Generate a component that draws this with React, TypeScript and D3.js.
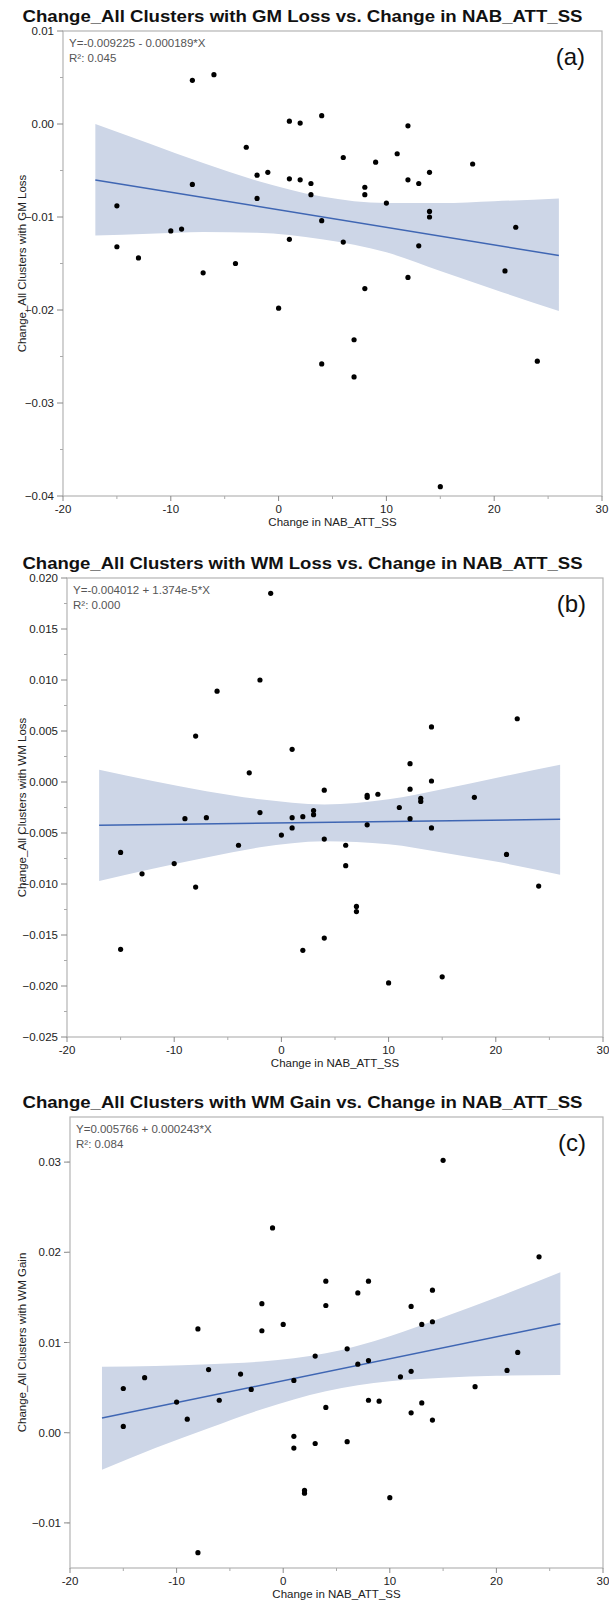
import React from "react";
import * as d3 from "d3";

// points: x = Change in NAB_ATT_SS, y = cluster change
const xA = [-15, -15, -13, -10, -9, -8, -8, -7, -6, -4, -3, -2, -2, -1, 0, 1, 1, 1, 2, 2, 3, 3, 4, 4, 4, 6, 6, 7, 7, 8, 8, 8, 9, 10, 11, 12, 12, 12, 13, 13, 14, 14, 14, 15, 18, 21, 22, 24];
const yA = [-0.0088, -0.0132, -0.0144, -0.0115, -0.0113, 0.0047, -0.0065, -0.016, 0.0053, -0.015, -0.0025, -0.0055, -0.008, -0.0052, -0.0198, 0.0003, -0.0059, -0.0124, 0.0001, -0.006, -0.0064, -0.0076, 0.0009, -0.0104, -0.0258, -0.0036, -0.0127, -0.0232, -0.0272, -0.0068, -0.0076, -0.0177, -0.0041, -0.0085, -0.0032, -0.0002, -0.006, -0.0165, -0.0064, -0.0131, -0.0052, -0.0094, -0.01, -0.039, -0.0043, -0.0158, -0.0111, -0.0255];

const xB = [-15, -15, -13, -10, -9, -8, -8, -7, -6, -4, -3, -2, -2, -1, 0, 1, 1, 1, 2, 2, 3, 3, 4, 4, 4, 6, 6, 7, 7, 8, 8, 8, 9, 10, 11, 12, 12, 12, 13, 13, 14, 14, 14, 15, 18, 21, 22, 24];
const yB = [-0.0069, -0.0164, -0.009, -0.008, -0.0036, 0.0045, -0.0103, -0.0035, 0.0089, -0.0062, 0.0009, 0.01, -0.003, 0.0185, -0.0052, 0.0032, -0.0035, -0.0045, -0.0034, -0.0165, -0.0028, -0.0032, -0.0008, -0.0056, -0.0153, -0.0062, -0.0082, -0.0122, -0.0127, -0.0013, -0.0015, -0.0042, -0.0012, -0.0197, -0.0025, 0.0018, -0.0007, -0.0036, -0.0016, -0.0019, 0.0054, 0.0001, -0.0045, -0.0191, -0.0015, -0.0071, 0.0062, -0.0102];

const xC = [-15, -15, -13, -10, -9, -8, -8, -7, -6, -4, -3, -2, -2, -1, 0, 1, 1, 1, 2, 2, 3, 3, 4, 4, 4, 6, 6, 7, 7, 8, 8, 8, 9, 10, 11, 12, 12, 12, 13, 13, 14, 14, 14, 15, 18, 21, 22, 24];
const yC = [0.0049, 0.0007, 0.0061, 0.0034, 0.0015, 0.0115, -0.0133, 0.007, 0.0036, 0.0065, 0.0048, 0.0143, 0.0113, 0.0227, 0.012, 0.0058, -0.0004, -0.0017, -0.0064, -0.0067, 0.0085, -0.0012, 0.0168, 0.0141, 0.0028, 0.0093, -0.001, 0.0155, 0.0076, 0.0168, 0.008, 0.0036, 0.0035, -0.0072, 0.0062, 0.014, 0.0068, 0.0022, 0.012, 0.0033, 0.0158, 0.0123, 0.0014, 0.0302, 0.0051, 0.0069, 0.0089, 0.0195];

// confidence band, read at a few x positions
const bandX = [-17, -12, -7, -2, 4, 10, 15, 20, 26];
const bandUpA = [0.0, -0.0021, -0.0042, -0.0061, -0.0078, -0.0085, -0.0085, -0.0083, -0.008];
const bandLoA = [-0.012, -0.0118, -0.0116, -0.0117, -0.0124, -0.0138, -0.0158, -0.0178, -0.0201];
const bandUpB = [0.0012, 0.0001, -0.0009, -0.0017, -0.0022, -0.0017, -0.0007, 0.0004, 0.0017];
const bandLoB = [-0.0097, -0.0085, -0.0074, -0.0064, -0.0058, -0.0061, -0.0069, -0.0078, -0.0091];
const bandUpC = [0.0073, 0.0074, 0.0076, 0.0079, 0.0088, 0.0107, 0.0128, 0.015, 0.0178];
const bandLoC = [-0.0041, -0.0017, 0.0005, 0.0026, 0.0046, 0.0057, 0.0061, 0.0063, 0.0064];

// fit coefficients printed on the chart (intercept, slope)
const fitA = [-0.009225, -0.000189];
const fitB = [-0.004012, 0.00001374];
const fitC = [0.005766, 0.000243];
const fitRange = [-17, 26];

const xTicks = [-20, -10, 0, 10, 20, 30];
const yTicksA = [0.01, 0.0, -0.01, -0.02, -0.03, -0.04];
const yTicksB = [0.02, 0.015, 0.01, 0.005, 0.0, -0.005, -0.01, -0.015, -0.02, -0.025];
const yTicksC = [0.03, 0.02, 0.01, 0.0, -0.01];

const FONT = "'Liberation Sans', Arial, Helvetica, sans-serif";

function Panel(props) {
  const { top, bottom, left, right, yDomain, yTicks, yFmt, yMinorStep, xs, ys, bandUp, bandLo, fit, title, yLabel, eq, r2, tag } = props;
  const x = d3.scaleLinear().domain([-20, 30]).range([left, right]);
  const y = d3.scaleLinear().domain(yDomain).range([bottom, top]);
  const fmt = d3.format(yFmt);

  const band = d3
    .area()
    .x((d) => x(d[0]))
    .y0((d) => y(d[2]))
    .y1((d) => y(d[1]))
    .curve(d3.curveMonotoneX);
  const bandData = bandX.map((v, i) => [v, bandUp[i], bandLo[i]]);

  const line = d3
    .line()
    .x((d) => x(d))
    .y((d) => y(fit[0] + fit[1] * d));

  const xMinor = d3.range(-15, 30, 10);
  const yMinor = d3.range(yDomain[0] + yMinorStep, yDomain[1], yMinorStep * 2);

  return (
    <g fontFamily={FONT}>
      <text x={(22 + 583) / 2} y={top - 9} textAnchor="middle" fontWeight="bold" fontSize={17} textLength={560} lengthAdjust="spacingAndGlyphs" fill="#111">
        {title}
      </text>
      <path d={band(bandData)} fill="#cdd6e7" />
      <path d={line(fitRange)} fill="none" stroke="#3f66b3" strokeWidth={1.5} />
      {xs.map((v, i) => (
        <circle key={i} cx={x(v)} cy={y(ys[i])} r={2.6} fill="#000" />
      ))}
      <rect x={left} y={top} width={right - left} height={bottom - top} fill="none" stroke="#b4b4b4" strokeWidth={1.2} />
      {yTicks.map((t) => (
        <g key={"y" + t}>
          <line x1={left - 6} x2={left} y1={y(t)} y2={y(t)} stroke="#888" />
          <text x={left - 9} y={y(t)} dy="0.35em" textAnchor="end" fontSize={11.5} fill="#222">
            {fmt(t)}
          </text>
        </g>
      ))}
      {yMinor.map((t) => (
        <line key={"ym" + t} x1={left - 3} x2={left} y1={y(t)} y2={y(t)} stroke="#aaa" />
      ))}
      {xTicks.map((t) => (
        <g key={"x" + t}>
          <line x1={x(t)} x2={x(t)} y1={bottom} y2={bottom + 5} stroke="#888" />
          <text x={x(t)} y={bottom + 17} textAnchor="middle" fontSize={11.5} fill="#222">
            {t}
          </text>
        </g>
      ))}
      {xMinor.map((t) => (
        <line key={"xm" + t} x1={x(t)} x2={x(t)} y1={bottom} y2={bottom + 3} stroke="#aaa" />
      ))}
      <text x={(left + right) / 2} y={bottom + 30} textAnchor="middle" fontSize={11.5} fill="#222">
        Change in NAB_ATT_SS
      </text>
      <text transform={`translate(${26},${(top + bottom) / 2}) rotate(-90)`} textAnchor="middle" fontSize={11.5} fill="#222">
        {yLabel}
      </text>
      <text x={left + 6} y={top + 16} fontSize={11.5} fill="#555">
        {eq}
      </text>
      <text x={left + 6} y={top + 31} fontSize={11.5} fill="#555">
        {r2}
      </text>
      <text x={right - 17} y={top + 34} textAnchor="end" fontSize={24} fill="#111">
        {tag}
      </text>
    </g>
  );
}

export default function App() {
  return (
    <svg width={609} height={1603} style={{ position: "absolute", left: 0, top: 0, background: "#fff" }}>
      <rect width={609} height={1603} fill="#fff" />
      <Panel
        top={31}
        bottom={496}
        left={63}
        right={602}
        yDomain={[-0.04, 0.01]}
        yTicks={yTicksA}
        yFmt=".2f"
        yMinorStep={0.005}
        xs={xA}
        ys={yA}
        bandUp={bandUpA}
        bandLo={bandLoA}
        fit={fitA}
        title="Change_All Clusters with GM Loss vs. Change in NAB_ATT_SS"
        yLabel="Change_All Clusters with GM Loss"
        eq="Y=-0.009225 - 0.000189*X"
        r2="R²: 0.045"
        tag="(a)"
      />
      <Panel
        top={578}
        bottom={1037}
        left={67}
        right={603}
        yDomain={[-0.025, 0.02]}
        yTicks={yTicksB}
        yFmt=".3f"
        yMinorStep={0.0025}
        xs={xB}
        ys={yB}
        bandUp={bandUpB}
        bandLo={bandLoB}
        fit={fitB}
        title="Change_All Clusters with WM Loss vs. Change in NAB_ATT_SS"
        yLabel="Change_All Clusters with WM Loss"
        eq="Y=-0.004012 + 1.374e-5*X"
        r2="R²: 0.000"
        tag="(b)"
      />
      <Panel
        top={1117}
        bottom={1568}
        left={70}
        right={603}
        yDomain={[-0.015, 0.035]}
        yTicks={yTicksC}
        yFmt=".2f"
        yMinorStep={0.005}
        xs={xC}
        ys={yC}
        bandUp={bandUpC}
        bandLo={bandLoC}
        fit={fitC}
        title="Change_All Clusters with WM Gain vs. Change in NAB_ATT_SS"
        yLabel="Change_All Clusters with WM Gain"
        eq="Y=0.005766 + 0.000243*X"
        r2="R²: 0.084"
        tag="(c)"
      />
    </svg>
  );
}
